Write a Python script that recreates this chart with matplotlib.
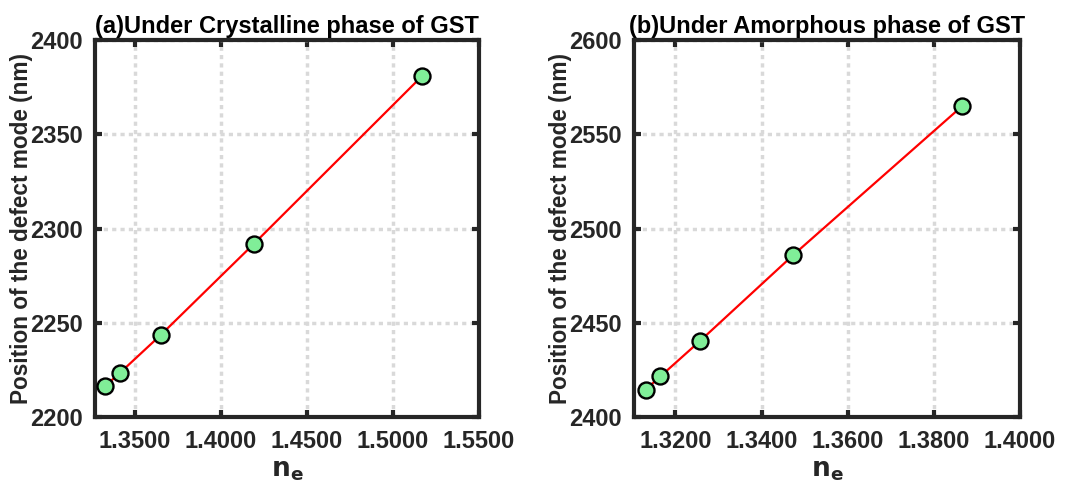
import matplotlib.pyplot as plt
import matplotlib as mpl
import numpy as np

# crystalline phase
ne_cry = [1.3327, 1.3413, 1.3649, 1.4192, 1.5170]
pos_cry = [2216.5, 2223.5, 2243.5, 2292, 2381]
# amorphous phase
ne_amo = [1.3131, 1.3165, 1.3258, 1.3474, 1.3866]
pos_amo = [2414.5, 2421.5, 2440.5, 2486, 2565]

titles = ['(a)Under Crystalline phase of GST', '(b)Under Amorphous phase of GST']
xticks_list = [[1.35, 1.40, 1.45, 1.50, 1.55], [1.32, 1.34, 1.36, 1.38, 1.40]]
xlims = [(1.3267, 1.55), (1.3104, 1.40)]
yticks_list = [[2200, 2250, 2300, 2350, 2400], [2400, 2450, 2500, 2550, 2600]]

mpl.rcParams['font.family'] = 'Liberation Sans'
mpl.rcParams['font.weight'] = 'bold'
txt_col = '#262626'

fig = plt.figure(figsize=(10.7, 4.92), dpi=100)
ax_a = fig.add_axes([0.0888, 0.1524, 0.3589, 0.7663])
ax_b = fig.add_axes([0.5925, 0.1524, 0.3608, 0.7663])

for ax, xs, ys, ttl, xt, xl, yt in zip([ax_a, ax_b], [ne_cry, ne_amo], [pos_cry, pos_amo],
                                       titles, xticks_list, xlims, yticks_list):
    ax.plot(xs, ys, '-', color='#ff0000', lw=1.6, zorder=3)
    ax.plot(xs, ys, 'o', ms=11.5, mfc='#80ee98', mec='black', mew=1.7, zorder=4)
    ax.set_xlim(xl)
    ax.set_ylim(yt[0], yt[-1])
    ax.set_xticks(xt)
    ax.set_xticklabels(['%.4f' % v for v in xt])
    ax.set_yticks(yt)
    ax.grid(True, linestyle=(0, (1.2, 1.2)), color='#d9d9d9', lw=2.5)
    ax.set_axisbelow(True)
    for s in ax.spines.values():
        s.set_linewidth(3)
        s.set_color(txt_col)
    ax.tick_params(direction='in', length=5, width=3, top=True, right=True,
                   labelsize=17, colors=txt_col, pad=9)
    for lab in ax.get_xticklabels() + ax.get_yticklabels():
        lab.set_fontweight('bold')
    ax.set_title(ttl, fontsize=17, fontweight='bold', color='black', pad=5)
    ax.set_ylabel('Position of the defect mode (nm)', fontsize=16.3, fontweight='bold', color=txt_col)
    ax.yaxis.set_label_coords(-0.161, 0.5)
    ax.set_xlabel(r'$\mathbf{n_e}$', fontsize=19, color=txt_col, labelpad=5)

plt.savefig('out.png', dpi=100)
